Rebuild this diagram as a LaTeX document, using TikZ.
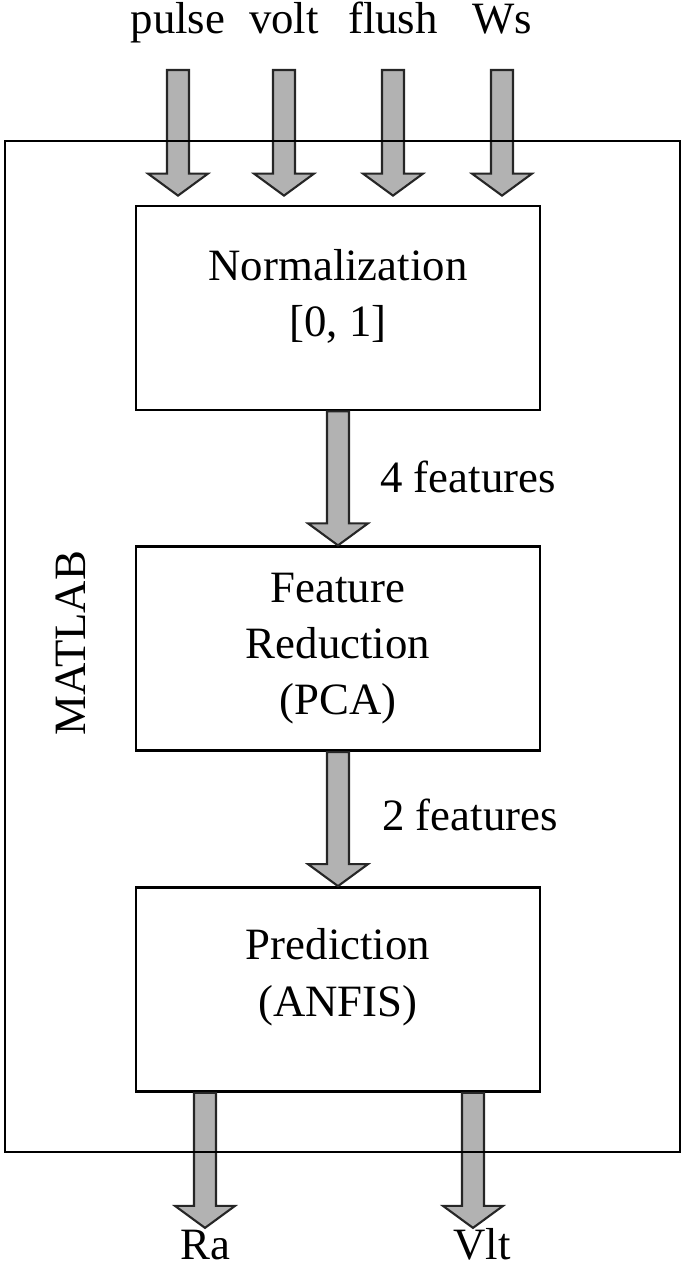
\documentclass[tikz,border=0pt]{standalone}
\usepackage{fontspec}
\setmainfont{Liberation Serif}
\usepackage{tikz}
\usetikzlibrary{calc,positioning}

\tikzset{
  stage/.style={draw, line width=1.6pt, fill=white, minimum width=8.08cm,
    minimum height=4.08cm, align=center, inner sep=0pt},
  fat arrow/.style={draw=black!85, fill=black!30, line width=1.2pt, line join=miter},
  tag/.style={anchor=base, inner sep=0pt}
}
% block arrow pointing down, from #1 to #2
\newcommand{\fatarrow}[2]{%
  \path[fat arrow] let \p1=(#1), \p2=(#2) in
    ({\x1-0.22cm},\y1) -- ({\x1+0.22cm},\y1) -- ({\x1+0.22cm},{\y2+0.44cm})
    -- ({\x1+0.6cm},{\y2+0.44cm}) -- (\x1,\y2) -- ({\x1-0.6cm},{\y2+0.44cm})
    -- ({\x1-0.22cm},{\y2+0.44cm}) -- cycle;}

\begin{document}
\begin{tikzpicture}[x=0.02cm, y=-0.02cm, font=\fontsize{25.5}{32}\selectfont]
    \useasboundingbox (0,0) rectangle (685,1269);

    \node[stage] (norm) at (338,308) {Normalization\\{}[0, 1]\rule[-0.6cm]{0pt}{0pt}};
    \node[stage, below=2.68cm of norm] (fr) {Feature\\Reduction\\(PCA)};
    \node[stage, below=2.68cm of fr] (pred) {Prediction\\(ANFIS)\rule[-0.68cm]{0pt}{0pt}};

    % inputs
    \foreach \nm/\xx in {pulse/178, volt/284, flush/393, Ws/502} {
        \node[tag] (\nm) at (\xx,33) {\nm};
        \coordinate (\nm-s) at (\xx,70);
        \coordinate (\nm-e) at ($(\nm-s |- norm.north)+(0,-9)$);
        \fatarrow{\nm-s}{\nm-e}
    }

    \fatarrow{norm.south}{fr.north}
    \node[anchor=base west, inner sep=0pt] (f4) at (380,492) {4 features};
    \fatarrow{fr.south}{pred.north}
    \node[anchor=base west, inner sep=0pt] (f2) at (382,830) {2 features};

    % outputs
    \node[tag] (ra) at (205,1259) {Ra};
    \node[tag] (vlt) at (482,1259) {Vlt};
    \coordinate (ra-s) at ($(pred.south)+(-133,0)$);
    \coordinate (ra-e) at ($(ra-s)+(0,135)$);
    \coordinate (vlt-s) at ($(pred.south)+(135,0)$);
    \coordinate (vlt-e) at ($(vlt-s)+(0,135)$);
    \fatarrow{ra-s}{ra-e}
    \fatarrow{vlt-s}{vlt-e}

    \draw[line width=1.6pt] (5,141) rectangle (680,1152);
    \node[rotate=90, inner sep=0pt] (matlab) at (71,643) {MATLAB};
\end{tikzpicture}
\end{document}
